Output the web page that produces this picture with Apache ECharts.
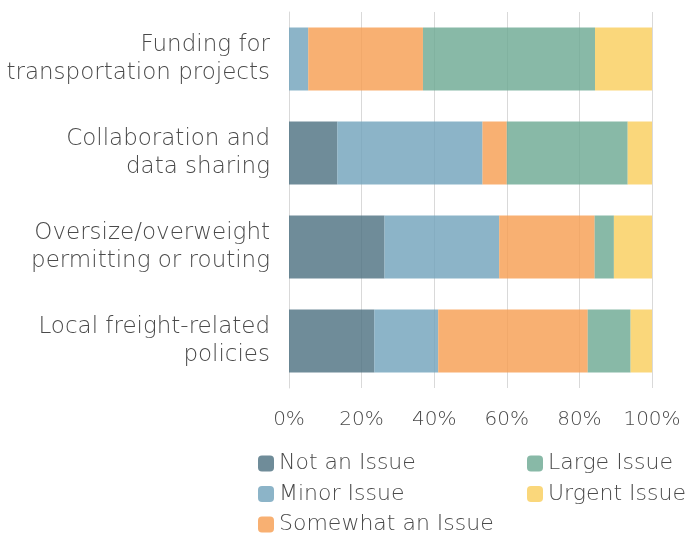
<!DOCTYPE html>
<html>
<head>
<meta charset="utf-8">
<script src="https://cdn.jsdelivr.net/npm/echarts@6/dist/echarts.min.js"></script>
<style>
  html, body { margin: 0; padding: 0; background: #ffffff; }
  #chart { width: 687px; height: 536px; }
</style>
</head>
<body>
<div id="chart"></div>
<script>
// Survey responses by topic, share of respondents (%)
const categories = [
  'Funding for\ntransportation projects',
  'Collaboration and\ndata sharing',
  'Oversize/overweight\npermitting or routing',
  'Local freight-related\npolicies'
];
const notAnIssue      = [0.0, 13.3, 26.3, 23.5];
const minorIssue      = [5.3, 40.0, 31.6, 17.6];
const somewhatAnIssue = [31.6, 6.7, 26.3, 41.2];
const largeIssue      = [47.4, 33.3, 5.3, 11.8];
const urgentIssue     = [15.7, 6.7, 10.5, 5.9];
const xTicks = [0, 20, 40, 60, 80, 100];

const FONT = '"DejaVu Sans", sans-serif';
const TEXT = '#4a4a4a';

const seriesDefs = [
  { name: 'Not an Issue',      data: notAnIssue,      color: 'rgba(75,111,128,0.8)' },
  { name: 'Minor Issue',       data: minorIssue,      color: 'rgba(111,161,186,0.8)' },
  { name: 'Somewhat an Issue', data: somewhatAnIssue, color: 'rgba(246,156,79,0.8)' },
  { name: 'Large Issue',       data: largeIssue,      color: 'rgba(106,168,145,0.8)' },
  { name: 'Urgent Issue',      data: urgentIssue,     color: 'rgba(249,205,90,0.8)' }
];

const chart = echarts.init(document.getElementById('chart'), null, { renderer: 'canvas' });

const legendText = { color: TEXT, fontSize: 22, fontFamily: FONT, fontWeight: 200, lineHeight: 23 };

chart.setOption({
  backgroundColor: '#ffffff',
  animation: false,
  grid: { left: 289, right: 35, top: 12, bottom: 148 },
  legend: [
    {
      data: ['Not an Issue', 'Minor Issue', 'Somewhat an Issue'],
      orient: 'vertical', left: 258, top: 452, height: 120,
      itemWidth: 16, itemHeight: 16, itemGap: 7.5, padding: 0,
      textStyle: legendText
    },
    {
      data: ['Large Issue', 'Urgent Issue'],
      orient: 'vertical', left: 527, top: 452, height: 120,
      itemWidth: 16, itemHeight: 16, itemGap: 7.5, padding: 0,
      textStyle: legendText
    }
  ],
  xAxis: {
    type: 'value',
    min: xTicks[0], max: xTicks[xTicks.length - 1], interval: 20,
    axisLine: { show: false },
    axisTick: { show: false },
    splitLine: { show: true, lineStyle: { color: '#d9d9d9', width: 1 } },
    axisLabel: {
      formatter: '{value}%', color: TEXT, fontSize: 20, fontFamily: FONT, fontWeight: 200, margin: 22
    }
  },
  yAxis: {
    type: 'category',
    data: categories,
    inverse: true,
    axisLine: { show: true, lineStyle: { color: '#d9d9d9', width: 1 } },
    axisTick: { show: false },
    axisLabel: {
      color: TEXT, fontSize: 23, fontFamily: FONT, fontWeight: 200, lineHeight: 28, margin: 19, align: 'right'
    }
  },
  series: seriesDefs.map(s => ({
    name: s.name,
    type: 'bar',
    stack: 'total',
    barWidth: '67%',
    data: s.data,
    itemStyle: { color: s.color },
    emphasis: { disabled: true }
  }))
});
</script>
</body>
</html>
